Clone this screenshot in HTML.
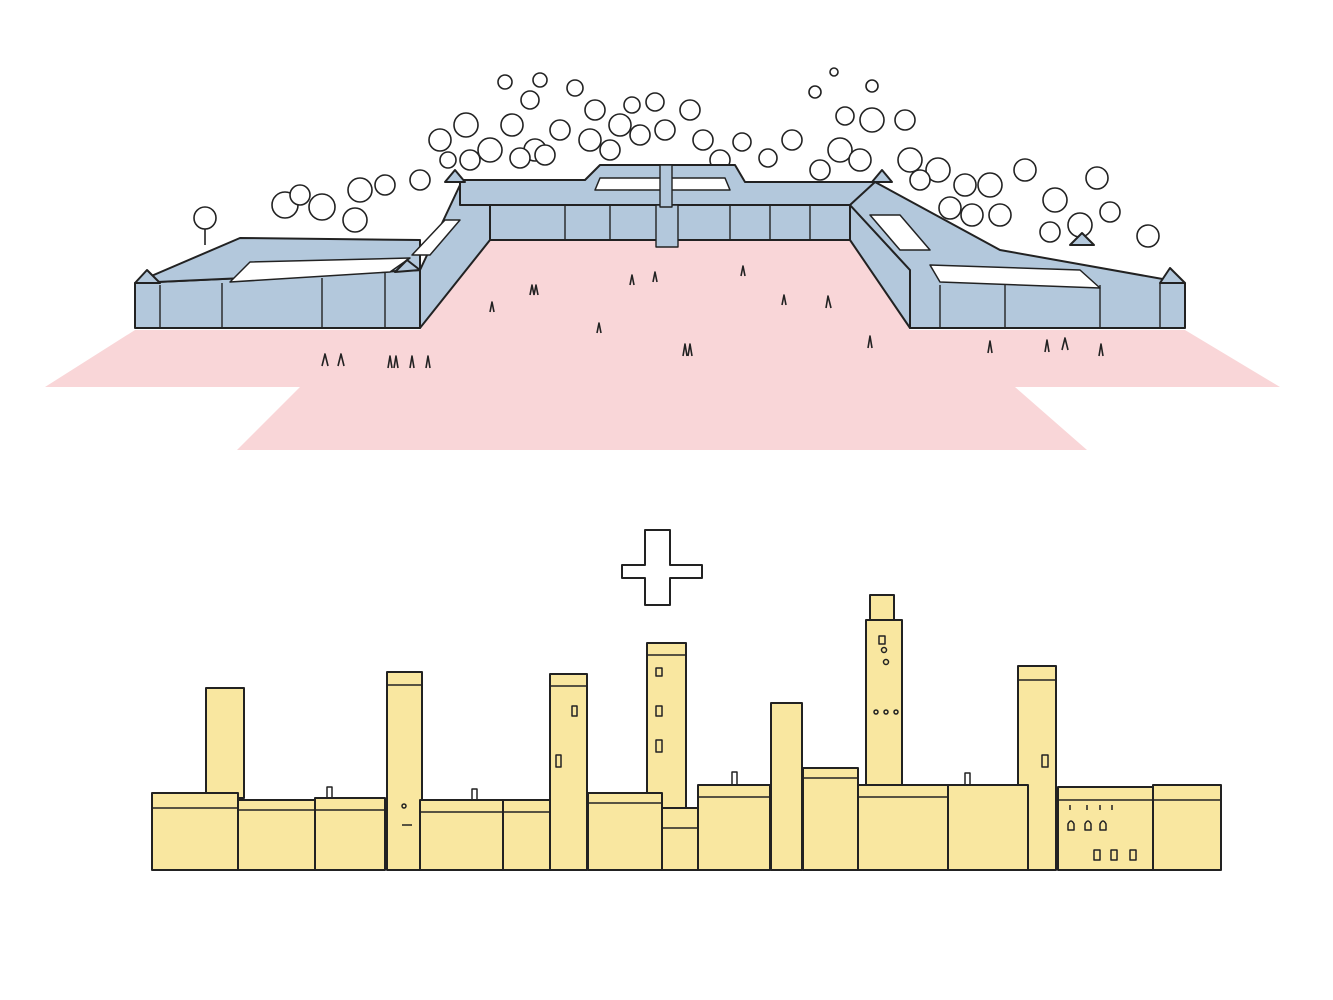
<!DOCTYPE html>
<html><head><meta charset="utf-8"><style>html,body{margin:0;padding:0;background:#fff;}svg{display:block}</style></head>
<body>
<svg width="1333" height="1000" viewBox="0 0 1333 1000" xmlns="http://www.w3.org/2000/svg">
<g stroke="#222" stroke-width="2" stroke-linejoin="round" fill="none">
<!-- pink ground -->
<polygon fill="#f9d6d8" stroke="none" points="135,330 420,330 490,240 850,240 910,330 1185,330 1280,387 1015,387 1087,450 237,450 300,387 45,387"/>
<!-- trees -->
<g fill="#fff" stroke-width="1.6">
<circle cx="205" cy="218" r="11"/><line x1="205" y1="229" x2="205" y2="245"/>
<circle cx="285" cy="205" r="13"/><circle cx="300" cy="195" r="10"/><circle cx="322" cy="207" r="13"/><circle cx="360" cy="190" r="12"/><circle cx="385" cy="185" r="10"/><circle cx="355" cy="220" r="12"/><circle cx="420" cy="180" r="10"/>
<circle cx="440" cy="140" r="11"/><circle cx="466" cy="125" r="12"/><circle cx="490" cy="150" r="12"/><circle cx="512" cy="125" r="11"/><circle cx="535" cy="150" r="11"/><circle cx="505" cy="82" r="7"/><circle cx="540" cy="80" r="7"/><circle cx="530" cy="100" r="9"/><circle cx="560" cy="130" r="10"/><circle cx="575" cy="88" r="8"/><circle cx="595" cy="110" r="10"/><circle cx="590" cy="140" r="11"/><circle cx="620" cy="125" r="11"/><circle cx="632" cy="105" r="8"/><circle cx="655" cy="102" r="9"/><circle cx="640" cy="135" r="10"/><circle cx="665" cy="130" r="10"/><circle cx="690" cy="110" r="10"/><circle cx="703" cy="140" r="10"/><circle cx="742" cy="142" r="9"/><circle cx="768" cy="158" r="9"/><circle cx="792" cy="140" r="10"/><circle cx="815" cy="92" r="6"/><circle cx="834" cy="72" r="4"/><circle cx="845" cy="116" r="9"/><circle cx="872" cy="86" r="6"/><circle cx="872" cy="120" r="12"/><circle cx="905" cy="120" r="10"/><circle cx="840" cy="150" r="12"/><circle cx="820" cy="170" r="10"/><circle cx="860" cy="160" r="11"/><circle cx="910" cy="160" r="12"/><circle cx="938" cy="170" r="12"/><circle cx="920" cy="180" r="10"/><circle cx="965" cy="185" r="11"/><circle cx="990" cy="185" r="12"/><circle cx="950" cy="208" r="11"/><circle cx="972" cy="215" r="11"/><circle cx="1000" cy="215" r="11"/><circle cx="1025" cy="170" r="11"/><circle cx="1055" cy="200" r="12"/><circle cx="1080" cy="225" r="12"/><circle cx="1050" cy="232" r="10"/><circle cx="1097" cy="178" r="11"/><circle cx="1110" cy="212" r="10"/><circle cx="1148" cy="236" r="11"/>
<circle cx="545" cy="155" r="10"/><circle cx="520" cy="158" r="10"/><circle cx="470" cy="160" r="10"/><circle cx="448" cy="160" r="8"/><circle cx="610" cy="150" r="10"/><circle cx="720" cy="160" r="10"/>
</g>
<!-- walls -->
<g fill="#b3c8dc">
<polygon points="135,283 420,270 420,328 135,328"/>
<polygon points="420,270 460,185 490,205 490,240 420,328"/>
<polygon points="490,205 850,205 850,240 490,240"/>
<polygon points="460,180 585,180 600,165 735,165 745,182 875,182 875,205 460,205"/>
<polygon points="850,205 910,270 910,328 850,240"/>
<polygon points="875,182 1000,250 1185,283 1185,328 910,328 910,270 850,205"/>
<polygon points="135,283 240,238 420,240 420,270"/>
</g>
<g fill="#fff" stroke-width="1.5">
<polygon points="230,282 390,272 410,258 250,262"/>
<polygon points="412,255 445,220 460,220 430,255"/>
<polygon points="595,190 730,190 725,178 600,178"/>
<polygon points="870,215 900,215 930,250 900,250"/>
<polygon points="940,282 1100,288 1080,270 930,265"/>
</g>
<g stroke-width="1.4">
<line x1="160" y1="285" x2="160" y2="328"/><line x1="222" y1="283" x2="222" y2="328"/><line x1="322" y1="278" x2="322" y2="328"/><line x1="385" y1="272" x2="385" y2="328"/>
<line x1="565" y1="205" x2="565" y2="240"/><line x1="610" y1="205" x2="610" y2="240"/><line x1="730" y1="205" x2="730" y2="240"/><line x1="770" y1="205" x2="770" y2="240"/><line x1="810" y1="205" x2="810" y2="240"/>
<line x1="940" y1="285" x2="940" y2="328"/><line x1="1005" y1="285" x2="1005" y2="328"/><line x1="1100" y1="285" x2="1100" y2="328"/><line x1="1160" y1="283" x2="1160" y2="328"/>
<rect x="656" y="205" width="22" height="42" fill="#b3c8dc"/><rect x="660" y="165" width="12" height="42" fill="#b3c8dc"/>
</g>
<g fill="#b3c8dc"><polygon points="135,283 147,270 160,283"/><polygon points="395,272 407,260 420,270"/><polygon points="445,182 455,170 465,182"/><polygon points="872,182 882,170 892,182"/><polygon points="1070,245 1082,233 1094,245"/><polygon points="1160,283 1170,268 1185,283"/></g>
<!-- people -->
<g stroke-width="1.6">
<path d="M322 366 l3-12 l3 12 M338 366 l3-12 l3 12 M388 368 l2-12 l2 12 M394 368 l2-12 l2 12 M410 368 l2-12 l2 12 M426 368 l2-12 l2 12 M490 312 l2-10 l2 10 M530 295 l2-10 l2 10 M534 295 l2-10 l2 10 M597 333 l2-10 l2 10 M630 285 l2-10 l2 10 M653 282 l2-10 l2 10 M683 356 l2-12 l2 12 M688 356 l2-12 l2 12 M741 276 l2-10 l2 10 M782 305 l2-10 l2 10 M826 308 l2-12 l3 12 M868 348 l2-12 l2 12 M988 353 l2-12 l2 12 M1045 352 l2-12 l2 12 M1062 350 l3-12 l3 12 M1099 356 l2-12 l2 12"/>
</g>
<!-- plus -->
<polygon fill="#fff" points="645,530 670,530 670,565 702,565 702,578 670,578 670,605 645,605 645,578 622,578 622,565 645,565"/>
<!-- town -->
<g fill="#f9e7a0">
<rect x="206" y="688" width="38" height="110"/>
<rect x="387" y="672" width="35" height="198"/>
<rect x="550" y="674" width="37" height="196"/>
<rect x="647" y="643" width="39" height="170"/>
<rect x="771" y="703" width="31" height="167"/>
<rect x="870" y="595" width="24" height="30"/>
<rect x="866" y="620" width="36" height="168"/>
<rect x="1018" y="666" width="38" height="204"/>
<rect x="152" y="793" width="86" height="77"/>
<rect x="238" y="800" width="77" height="70"/>
<rect x="315" y="798" width="70" height="72"/>
<rect x="420" y="800" width="83" height="70"/>
<rect x="503" y="800" width="47" height="70"/>
<rect x="588" y="793" width="74" height="77"/>
<rect x="662" y="808" width="36" height="62"/>
<rect x="698" y="785" width="72" height="85"/>
<rect x="803" y="768" width="55" height="102"/>
<rect x="858" y="785" width="90" height="85"/>
<rect x="948" y="785" width="80" height="85"/>
<rect x="1058" y="787" width="95" height="83"/>
<rect x="1153" y="785" width="68" height="85"/>
</g>
<g stroke-width="1.5">
<line x1="152" y1="808" x2="238" y2="808"/><line x1="238" y1="810" x2="315" y2="810"/><line x1="315" y1="810" x2="385" y2="810"/><line x1="420" y1="812" x2="503" y2="812"/><line x1="503" y1="812" x2="550" y2="812"/><line x1="588" y1="803" x2="662" y2="803"/><line x1="662" y1="828" x2="698" y2="828"/><line x1="698" y1="797" x2="770" y2="797"/><line x1="803" y1="778" x2="858" y2="778"/><line x1="858" y1="797" x2="948" y2="797"/><line x1="1058" y1="800" x2="1153" y2="800"/><line x1="1153" y1="800" x2="1221" y2="800"/>
<line x1="387" y1="685" x2="422" y2="685"/><line x1="550" y1="686" x2="587" y2="686"/><line x1="647" y1="655" x2="686" y2="655"/><line x1="1018" y1="680" x2="1056" y2="680"/>
<rect x="327" y="787" width="5" height="11"/><rect x="472" y="789" width="5" height="11"/><rect x="732" y="772" width="5" height="13"/><rect x="965" y="773" width="5" height="12"/>
<rect x="572" y="706" width="5" height="10"/><rect x="556" y="755" width="5" height="12"/><rect x="656" y="668" width="6" height="8"/><rect x="656" y="706" width="6" height="10"/><rect x="656" y="740" width="6" height="12"/><rect x="1042" y="755" width="6" height="12"/><rect x="879" y="636" width="6" height="8"/>
<circle cx="884" cy="650" r="2.5"/><circle cx="886" cy="662" r="2.5"/><circle cx="876" cy="712" r="2"/><circle cx="886" cy="712" r="2"/><circle cx="896" cy="712" r="2"/><circle cx="404" cy="806" r="2"/><path d="M402 825 h10"/>
<path d="M1068 830 v-6 q3-6 6 0 v6z M1085 830 v-6 q3-6 6 0 v6z M1100 830 v-6 q3-6 6 0 v6z M1094 860 v-10 h6 v10z M1111 860 v-10 h6 v10z M1130 860 v-10 h6 v10z M1070 805 v5 M1087 805 v5 M1100 805 v5 M1112 805 v5"/>
</g>
</g>
</svg>
</body></html>
